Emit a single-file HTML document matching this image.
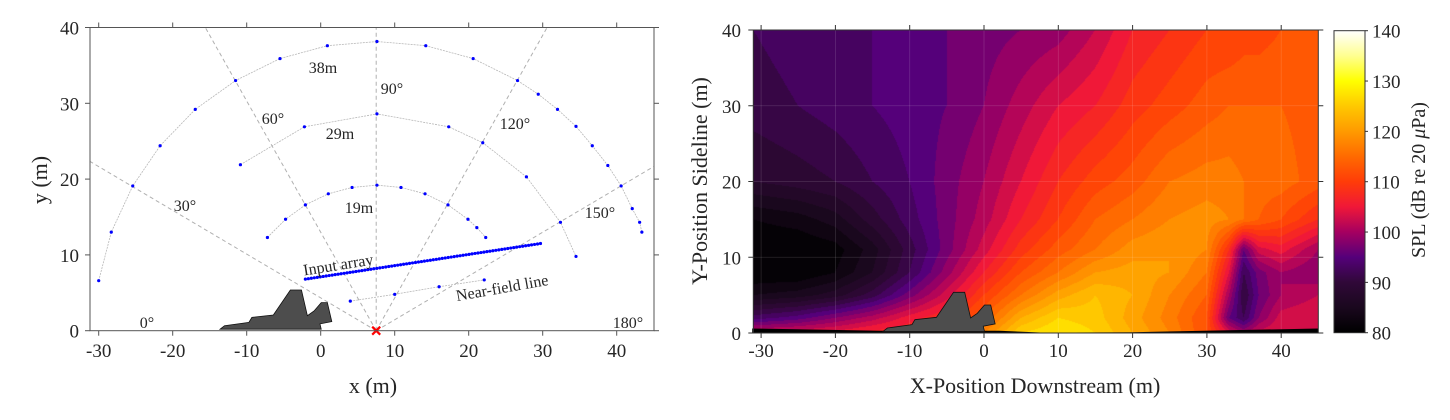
<!DOCTYPE html>
<html><head><meta charset="utf-8">
<style>
html,body{margin:0;padding:0;background:#fff;}
#wrap{position:relative;width:1450px;height:420px;overflow:hidden;font-family:"Liberation Serif",serif;}
#heat{position:absolute;left:753px;top:30px;}
#svg{position:absolute;left:0;top:0;}
text{font-family:"Liberation Serif",serif;fill:#262626;}
</style></head><body>
<div id="wrap">
<canvas id="heat" width="565" height="303"></canvas>
<svg id="svg" width="1450" height="420" xmlns="http://www.w3.org/2000/svg"></svg>
</div>
<script>
// ---------- data ----------
const mapX=[-31,-25,-20,-15,-10,-5,0,5,10,15,20,25,30,33,35,37,40,45];
const mapY=[0,2,5,8,11,15,20,30,40];
const splY0 =[103,104,105,107,108,110,118,126,128,126,122,118,112,104,100,103,104,104];
const splY2 =[93,95,98,101,105,108,114,122,126,125,121,117,112,96,92,98,103,104];
const splY5 =[84,85,87,91,97,103,110,116,121,124,122,118,114,100,90,96,100,102];
const splY8 =[80,80,82,86,92,99,106,112,116,120,121,120,116,104,92,97,100,98];
const splY11=[80,80,81,85,91,97,103,109,113,116,119,120,118,108,96,103,105,100];
const splY15=[82,83,85,89,93,97,101,106,110,114,116,118,119,118,116,114,112,108];
const splY20=[88,89,90,92,94,97,100,104,108,111,113,116,117,117,116,115,115,113];
const splY30=[91,92,93,94,95,96,98,101,104,106,109,111,113,114,114,114,114,113];
const splY40=[92,93,94,94,95,96,97,98,99,102,106,108,110,110,111,111,112,112];
const splRows=[splY0,splY2,splY5,splY8,splY11,splY15,splY20,splY30,splY40];
const xTicks=[-30,-20,-10,0,10,20,30,40];
const yTicks=[0,10,20,30,40];
const cbTicks=[80,90,100,110,120,130,140];
const arc38X=[-30.0,-28.3,-25.4,-21.7,-16.95,-11.5,-5.5,0.9,7.6,14.2,20.6,26.6,29.4,32.0,34.5,36.7,38.8,40.6,42.1,43.1,43.4];
const arc38Y=[6.6,13.0,19.1,24.4,29.2,33.0,35.9,37.6,38.15,37.6,35.9,33.0,31.2,29.2,26.96,24.4,21.8,19.1,16.1,14.3,13.0];
const arc29X=[-10.85,-2.2,7.6,17.3,21.9,27.8,32.4,34.5];
const arc29Y=[21.9,26.9,28.6,26.9,24.8,20.3,14.3,9.8];
const arc19X=[-7.2,-4.75,-2.07,1.03,4.24,7.6,10.85,14.1,17.2,19.9,21.1,22.3];
const arc19Y=[12.3,14.7,16.6,18.06,18.9,19.2,18.9,18.06,16.6,14.7,13.6,12.3];
const nearX=[4.0,10.0,16.0,22.1];
const nearY=[3.9,4.8,5.8,6.7];
const inputStart=[-2.07,6.8], inputEnd=[29.7,11.5], inputCount=80;
const rayAngles=[30,60,90,120,150];
const origin=[7.5,0];
const jetX=[-13.6,-13.0,-9.7,-9.3,-6.4,-4.1,-2.6,-1.8,-0.9,0.07,0.9,1.5,-0.1,0.07];
const jetY=[0.2,0.66,1.1,1.76,2.07,5.37,5.37,1.98,2.6,3.7,3.7,1.2,0.9,0.2];

// ---------- helpers ----------
const NS='http://www.w3.org/2000/svg';
const svg=document.getElementById('svg');
function mk(tag,attrs,parent){const e=document.createElementNS(NS,tag);for(const k in attrs)e.setAttribute(k,attrs[k]);(parent||svg).appendChild(e);return e;}
function txt(s,x,y,size,anchor,parent,rot){const t=mk('text',{x:x,y:y,'font-size':size,'text-anchor':anchor||'middle'},parent);if(rot!==undefined)t.setAttribute('transform','rotate('+rot+' '+x+' '+y+')');t.textContent=s;return t;}

const L={x0:90,x1:654,y0:27.5,y1:330.7};
const lx=x=>320.7+7.4*x, ly=y=>330.7-7.58*y;
const R={x0:753.3,x1:1318.3,y0:30,y1:333};
const rx=x=>984+7.43*x, ry=y=>333-7.575*y;

// ---------- heatmap ----------
const stops=[[80,[0,0,0]],[85,[26,8,30]],[90,[48,8,56]],[95,[85,0,122]],[100,[165,0,96]],[105,[240,24,56]],[110,[255,60,8]],[115,[255,106,0]],[120,[255,154,0]],[125,[255,200,0]],[130,[255,255,0]],[135,[255,255,144]],[140,[255,255,255]]];
function cmap(v){v=Math.max(80,Math.min(140,v));for(let i=0;i<stops.length-1;i++){const a=stops[i],b=stops[i+1];if(v<=b[0]){const t=(v-a[0])/(b[0]-a[0]);return [0,1,2].map(k=>a[1][k]+(b[1][k]-a[1][k])*t);}}return [255,255,255];}
function findIdx(arr,v){for(let i=0;i<arr.length-1;i++){if(v<=arr[i+1])return i;}return arr.length-2;}
function spl(x,y){x=Math.max(mapX[0],Math.min(mapX[mapX.length-1],x));y=Math.max(mapY[0],Math.min(mapY[mapY.length-1],y));
 const i=findIdx(mapX,x),j=findIdx(mapY,y);const tx=(x-mapX[i])/(mapX[i+1]-mapX[i]),ty=(y-mapY[j])/(mapY[j+1]-mapY[j]);
 const a=splRows[j][i],b=splRows[j][i+1],c=splRows[j+1][i],d=splRows[j+1][i+1];
 return (a*(1-tx)+b*tx)*(1-ty)+(c*(1-tx)+d*tx)*ty;}
(function(){const cv=document.getElementById('heat');const ctx=cv.getContext('2d');const W=cv.width,H=cv.height;const img=ctx.createImageData(W,H);
 for(let py=0;py<H;py++){const y=(333-(30+py+0.5))/7.575;for(let px=0;px<W;px++){const x=(753.3+px+0.5-984)/7.43;let v=spl(x,y);v=Math.floor(v/2)*2+1;const c=cmap(v);const o=(py*W+px)*4;img.data[o]=c[0];img.data[o+1]=c[1];img.data[o+2]=c[2];img.data[o+3]=255;}}
 ctx.putImageData(img,0,0);})();

const gR=mk('g',{});


xTicks.forEach(t=>{const l=mk('line',{x1:rx(t),x2:rx(t),y1:R.y0,y2:R.y1,stroke:'#fff','stroke-opacity':0.15,'stroke-width':0.8},gR);});
yTicks.forEach(t=>{const l=mk('line',{x1:R.x0,x2:R.x1,y1:ry(t),y2:ry(t),stroke:'#fff','stroke-opacity':0.15,'stroke-width':0.8},gR);});
const strip=mk('polygon',{points:[[-31.2,0],[-31.2,0.6],[-14,0.3],[2,0.3],[8,0.05],[20,0.1],[45,0.6],[45,0]].map(p=>rx(p[0])+','+ry(p[1])).join(' '),fill:'#000'},gR);

function jet(sx,sy,parent,name){const p=mk('polygon',{points:jetX.map((x,i)=>sx(x)+','+sy(jetY[i])).join(' '),fill:'#4d4d4d',stroke:'#111','stroke-width':0.8},parent);}
jet(rx,ry,gR,'jet-silhouette-right');
mk('rect',{x:R.x0,y:R.y0,width:R.x1-R.x0,height:R.y1-R.y0,fill:'none',stroke:'#333','stroke-width':1},gR);
xTicks.forEach(t=>{mk('line',{x1:rx(t),x2:rx(t),y1:R.y1,y2:R.y1+5,stroke:'#333'},gR);mk('line',{x1:rx(t),x2:rx(t),y1:R.y0,y2:R.y0-5,stroke:'#333'},gR);const e=txt(String(t),rx(t),357,19,'middle',gR);});
yTicks.forEach(t=>{mk('line',{x1:R.x0-5,x2:R.x0,y1:ry(t),y2:ry(t),stroke:'#333'},gR);mk('line',{x1:R.x1,x2:R.x1+5,y1:ry(t),y2:ry(t),stroke:'#333'},gR);const e=txt(String(t),741,ry(t)+7,19,'end',gR);});
const rxl=txt('X-Position Downstream (m)',1035,393,22,'middle',gR);
const ryl=txt('Y-Position Sideline (m)',707,181,22,'middle',gR,-90);

const gC=mk('g',{});


const defs=mk('defs',{});const grad=mk('linearGradient',{id:'cbg',x1:0,y1:1,x2:0,y2:0},defs);
stops.forEach(s=>mk('stop',{offset:((s[0]-80)/60),'stop-color':'rgb('+s[1].map(Math.round).join(',')+')'},grad));
const cy=v=>332.7-(v-80)/60*302;
mk('rect',{x:1334,y:30.7,width:31,height:302,fill:'url(#cbg)',stroke:'#333','stroke-width':1},gC);
cbTicks.forEach(t=>{mk('line',{x1:1365,x2:1368,y1:cy(t),y2:cy(t),stroke:'#333'},gC);const e=txt(String(t),1372,cy(t)+7,19,'start',gC);});
const cbl=mk('text',{x:1425,y:180,'font-size':20,'text-anchor':'middle',transform:'rotate(-90 1425 180)'},gC);
cbl.innerHTML='SPL (dB re 20 <tspan font-style="italic">μ</tspan>Pa)';


const gL=mk('g',{});


const cp=mk('clipPath',{id:'lclip'},defs);mk('rect',{x:L.x0,y:L.y0,width:L.x1-L.x0,height:L.y1-L.y0},cp);
const gIn=mk('g',{'clip-path':'url(#lclip)'},gL);
rayAngles.forEach(a=>{const r=80,th=a*Math.PI/180;const l=mk('line',{x1:lx(origin[0]),y1:ly(origin[1]),x2:lx(origin[0]-r*Math.cos(th)),y2:ly(origin[1]+r*Math.sin(th)),stroke:'#b0b0b0','stroke-width':1,'stroke-dasharray':'4,3'},gIn);});
function arc(X,Y,name){const pl=mk('polyline',{points:X.map((x,i)=>lx(x)+','+ly(Y[i])).join(' '),fill:'none',stroke:'#b8b8b8','stroke-width':0.8,'stroke-dasharray':'2,1'},gIn);
 X.forEach((x,i)=>{const c=mk('circle',{cx:lx(x),cy:ly(Y[i]),r:1.6,fill:'#0000ff'},gIn);});}
arc(arc38X,arc38Y,'arc-38m');arc(arc29X,arc29Y,'arc-29m');arc(arc19X,arc19Y,'arc-19m');arc(nearX,nearY,'near-field');
for(let i=0;i<inputCount;i++){const t=i/(inputCount-1);const c=mk('circle',{cx:lx(inputStart[0]+(inputEnd[0]-inputStart[0])*t),cy:ly(inputStart[1]+(inputEnd[1]-inputStart[1])*t),r:1.6,fill:'#0000ff'},gIn);}
jet(lx,ly,gIn,'jet-silhouette-left');
const ox=lx(origin[0]),oy=ly(origin[1]);
const rm=mk('path',{d:`M${ox-4},${oy-4}L${ox+4},${oy+4}M${ox-4},${oy+4}L${ox+4},${oy-4}`,stroke:'#ff0000','stroke-width':2.2},gL);

mk('rect',{x:L.x0,y:L.y0,width:L.x1-L.x0,height:L.y1-L.y0,fill:'none',stroke:'#555','stroke-width':1},gL);
xTicks.forEach(t=>{mk('line',{x1:lx(t),x2:lx(t),y1:L.y1,y2:L.y1+5,stroke:'#555'},gL);mk('line',{x1:lx(t),x2:lx(t),y1:L.y0,y2:L.y0-5,stroke:'#555'},gL);const e=txt(String(t),lx(t),357,19,'middle',gL);});
yTicks.forEach(t=>{mk('line',{x1:L.x0-5,x2:L.x0,y1:ly(t),y2:ly(t),stroke:'#555'},gL);mk('line',{x1:L.x1,x2:L.x1+5,y1:ly(t),y2:ly(t),stroke:'#555'},gL);const e=txt(String(t),79,ly(t)+7,19,'end',gL);});
const lxl=txt('x (m)',373,393,22,'middle',gL);
const lyl=txt('y (m)',47,180,22,'middle',gL,-90);
const anns=[['38m',323,73,0,'label-38m'],['90°',392,94,0,'label-90deg'],['60°',273,124,0,'label-60deg'],['29m',340,139,0,'label-29m'],['120°',515,129,0,'label-120deg'],['30°',185,211,0,'label-30deg'],['19m',359,213,0,'label-19m'],['150°',600,218,0,'label-150deg'],['Input array',339,270,-9,'label-input-array'],['Near-field line',503,293,-10,'label-near-field-line'],['0°',147,328,0,'label-0deg'],['180°',628,328,0,'label-180deg']];
anns.forEach(a=>{const e=txt(a[0],a[1],a[2],16,'middle',gL,a[3]);});
</script>
</body></html>
